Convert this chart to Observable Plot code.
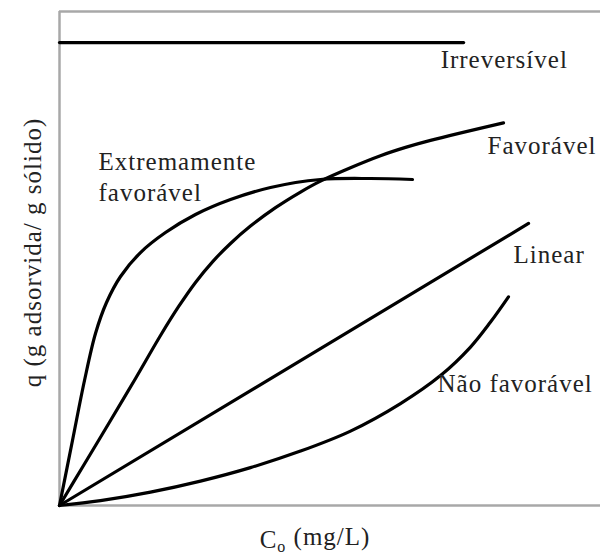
<!DOCTYPE html>
<html>
<head>
<meta charset="utf-8">
<script src="https://cdn.jsdelivr.net/npm/d3@7"></script>
<script src="https://cdn.jsdelivr.net/npm/@observablehq/plot@0.6"></script>
<style>
  html, body { margin: 0; padding: 0; background: #fff; }
  #chart text { letter-spacing: 1px; }
</style>
</head>
<body>
<div id="chart"></div>
<script>
// Series values (C in arbitrary units 0–100, q in arbitrary units 0–100)
const irreversivelC = [0, 74.7];
const irreversivelQ = [93.7, 93.7];

const extremamenteC = [0, 2.40, 4.62, 6.65, 8.69, 11.28, 14.97, 19.59, 25.14, 31.61, 39.0, 48.24, 57.49, 65.25];
const extremamenteQ = [0, 13.16, 25.30, 34.82, 41.09, 46.36, 51.21, 55.26, 58.91, 61.94, 64.37, 65.99, 66.19, 65.99];

const favoravelC = [0, 4.44, 9.43, 14.05, 18.67, 22.0, 25.14, 28.28, 31.61, 35.3, 39.93, 44.55, 48.24, 53.79, 59.33, 63.96, 68.58, 82.07];
const favoravelQ = [0, 8.1, 17.21, 25.71, 34.41, 40.24, 45.16, 49.33, 53.04, 56.56, 60.30, 63.46, 65.67, 68.38, 70.81, 72.49, 73.91, 77.45];

const linearC = [0, 86.7];
const linearQ = [0, 57.1];

const naoFavoravelC = [0, 7.58, 16.82, 26.06, 35.3, 44.55, 53.79, 63.03, 70.43, 75.97, 79.67, 82.99];
const naoFavoravelQ = [0, 0.99, 2.71, 4.94, 7.67, 11.01, 15.06, 20.63, 26.30, 32.07, 37.13, 42.23];

const seriesNames = ["Irreversível", "Extremamente\nfavorável", "Favorável", "Linear", "Não favorável"];
const xTitle = "C (mg/L)";
const yTitle = "q (g adsorvida/ g sólido)";

const toRows = (name, xs, ys) => xs.map((c, i) => ({name, c, q: ys[i]}));
const irr = toRows(seriesNames[0], irreversivelC, irreversivelQ);
const ext = toRows(seriesNames[1], extremamenteC, extremamenteQ);
const fav = toRows(seriesNames[2], favoravelC, favoravelQ);
const lin = toRows(seriesNames[3], linearC, linearQ);
const nao = toRows(seriesNames[4], naoFavoravelC, naoFavoravelQ);

const font = "'Liberation Serif', 'Times New Roman', serif";
const lineStyle = {x: "c", y: "q", stroke: "#000", strokeWidth: 3.2, curve: "catmull-rom"};
const labelStyle = {fontSize: 25, fontFamily: font, fill: "#222", textAnchor: "start"};
const last = arr => [arr[arr.length - 1]];

const chart = Plot.plot({
  width: 600,
  height: 557,
  marginLeft: 59,
  marginRight: 0,
  marginTop: 11,
  marginBottom: 52,
  x: {domain: [0, 100], axis: null},
  y: {domain: [0, 100], axis: null},
  style: {fontFamily: font, background: "#fff", overflow: "visible"},
  marks: [
    Plot.ruleX([0], {stroke: "#a8a8a8", strokeWidth: 2.5}),
    Plot.ruleY([0, 100], {stroke: "#a8a8a8", strokeWidth: 2.5}),
    Plot.line(irr, lineStyle),
    Plot.line(ext, lineStyle),
    Plot.line(fav, lineStyle),
    Plot.line(lin, lineStyle),
    Plot.line(nao, lineStyle),
    Plot.text(last(irr), {x: "c", y: "q", text: "name", dx: -23, dy: 17, ...labelStyle}),
    Plot.text(last(fav), {x: "c", y: "q", text: "name", dx: -16, dy: 23, ...labelStyle}),
    Plot.text(last(lin), {x: "c", y: "q", text: "name", dx: -15, dy: 32, ...labelStyle}),
    Plot.text(last(nao), {x: "c", y: "q", text: "name", dx: -71, dy: 87, ...labelStyle}),
    Plot.text([seriesNames[1]], {frameAnchor: "top-left", dx: 39, dy: 137, lineAnchor: "top", lineHeight: 1.22, ...labelStyle}),
    Plot.text([yTitle], {frameAnchor: "left", textAnchor: "middle", rotate: -90, dx: -27, dy: -6, fontSize: 25, fontFamily: font, fill: "#222", className: "ytitle"}),
    Plot.text([xTitle], {frameAnchor: "bottom", textAnchor: "middle", dx: -15, dy: 42, fontSize: 25, fontFamily: font, fill: "#222", className: "xtitle"})
  ]
});

document.getElementById("chart").appendChild(chart);

// Subscript "o" on C for the x title
d3.select(chart).selectAll("g.xtitle text").each(function() {
  const t = d3.select(this);
  t.text(null);
  t.append("tspan").text("C");
  t.append("tspan").attr("font-size", 16).attr("dy", "0.25em").text("o");
  t.append("tspan").attr("dy", "-0.25em").text(" (mg/L)");
});
</script>
</body>
</html>
